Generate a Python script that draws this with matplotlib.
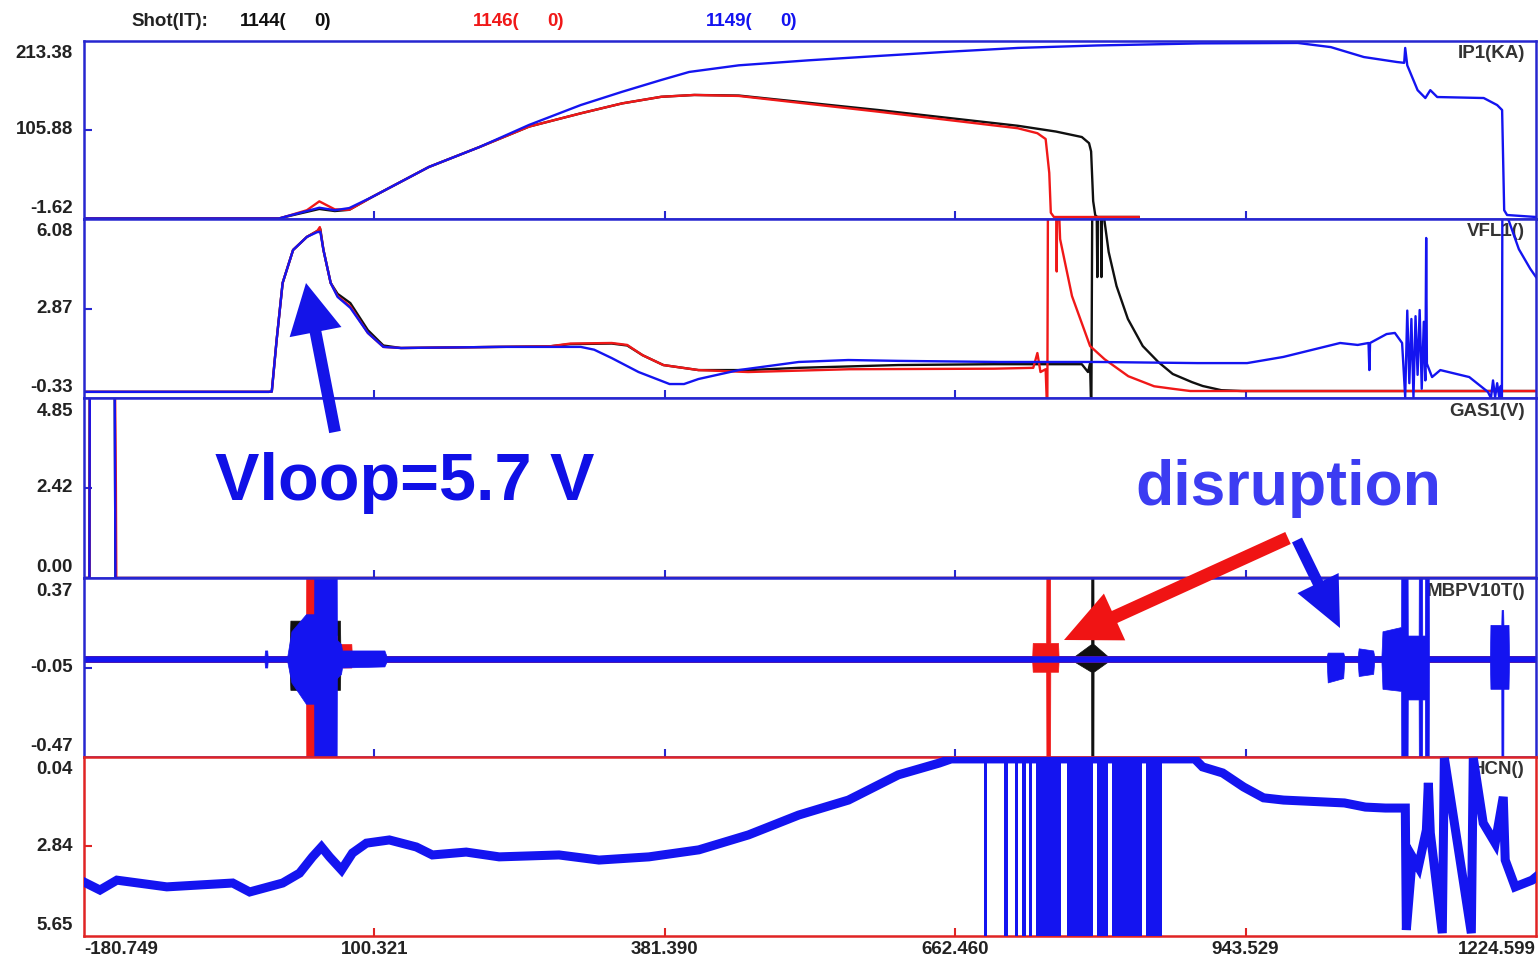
import numpy as np
import matplotlib
matplotlib.use("Agg")
import matplotlib.pyplot as plt
from matplotlib.patches import FancyArrowPatch
from matplotlib.transforms import offset_copy, blended_transform_factory

plt.rcParams['font.family'] = ['Liberation Sans', 'DejaVu Sans']

W, H = 1538, 961

# ---------------------------------------------------------------- data
shots = ['1144', '1146', '1149']
shot_colors = ['#101010', '#f01818', '#1414f0']

x_min, x_max = -180.749, 1224.599
x_ticks = [100.321, 381.390, 662.460, 943.529]
x_tick_labels = ['-180.749', '100.321', '381.390', '662.460', '943.529', '1224.599']

panel_names = ['IP1(KA)', 'VFL1()', 'GAS1(V)', 'MBPV10T()', 'HCN()']
# (bottom, middle, top) of each panel's vertical scale
y_scales = [(-1.62, 105.88, 213.38),
            (-0.33, 2.87, 6.08),
            (0.00, 2.42, 4.85),
            (-0.47, -0.05, 0.37),
            (5.65, 2.84, 0.04)]

# plasma current IP1 (kA): (time, value)
ip1_1144 = [(-180.7, -1.0), (8, -1.0), (15, 1.2), (35, 7), (47, 10.5), (62, 8), (76, 9.5),
            (98, 24.9), (153, 61.2), (202, 85.3), (250, 110), (300, 126), (340, 138),
            (378, 146), (410, 148.2), (453, 147.5), (588, 130), (723, 111), (760, 104),
            (785, 97.4), (792, 90), (794, 80), (796, 20), (798, 3), (800, 0.8), (840, 0.8)]
ip1_1146 = [(-180.7, -1.0), (8, -1.0), (15, 1.5), (35, 9), (47, 19.7), (62, 10), (76, 9.5),
            (98, 24.9), (153, 61.2), (202, 85.3), (250, 110), (300, 126), (340, 138),
            (378, 146), (410, 148.2), (453, 147), (588, 128), (723, 108), (742, 102),
            (750, 95), (753.5, 54), (755, 6), (758, 0.8), (840, 0.8)]
ip1_1149 = [(-180.7, -1.0), (8, -1.0), (15, 1.5), (35, 8), (47, 12), (62, 9), (76, 11.6),
            (98, 24.9), (153, 61.2), (202, 85.3), (250, 112), (300, 136), (340, 152),
            (378, 166.3), (405, 176), (453, 184), (520, 190), (588, 195.3), (650, 200),
            (723, 205), (800, 208), (900, 210.5), (994, 211), (1026, 206), (1058, 194),
            (1090, 188), (1097, 187), (1098, 205), (1100, 184), (1110, 154), (1117.5, 144.5),
            (1122.3, 154), (1129, 145.7), (1174, 144.5), (1187, 136), (1191.8, 130),
            (1193.8, 9), (1196.6, 3.2), (1224.6, 0.8)]

# loop voltage VFL1
vfl_1144 = [(-180.7, -0.11), (-2, -0.11), (1, -0.1), (5.7, 1.75), (11.5, 3.79), (21.6, 4.97),
            (35, 5.44), (45, 5.65), (48, 5.72), (51, 4.97), (58, 3.79), (64.7, 3.4),
            (77, 3.07), (94, 2.1), (109, 1.55), (126, 1.46), (221, 1.5), (270, 1.52),
            (290, 1.6), (330, 1.62), (345, 1.55), (360, 1.2), (380, 0.85), (414, 0.67),
            (462, 0.67), (511, 0.75), (607, 0.85), (700, 0.88), (785, 0.88), (791, 0.6),
            (793, 0.9), (794.2, -1.0), (795.4, 9.0), (799, 8.0), (800, 4.0), (801, 8.0),
            (803, 8.0), (804, 4.0), (805, 8.0), (807, 6.0), (811, 4.9), (818.6, 3.68),
            (829.6, 2.5), (844, 1.53), (859, 0.96), (873, 0.53), (891.5, 0.24), (902, 0.1),
            (920, -0.05), (940, -0.08), (1224.6, -0.08)]
vfl_1146 = [(-180.7, -0.11), (-2, -0.11), (1, -0.1), (5.7, 1.75), (11.5, 3.79), (21.6, 4.97),
            (35, 5.44), (45, 5.65), (47.5, 5.79), (51, 4.97), (58, 3.79), (64.7, 3.32),
            (77, 2.95), (94, 2.0), (109, 1.5), (126, 1.46), (221, 1.5), (270, 1.52),
            (290, 1.62), (330, 1.64), (345, 1.57), (360, 1.2), (380, 0.85), (414, 0.67),
            (462, 0.6), (560, 0.7), (700, 0.72), (738, 0.75), (742, 1.28), (745, 0.6),
            (750, 0.7), (751.6, -1.0), (752.4, 9.0), (760.2, 8.0), (760.7, 4.2), (761.3, 8.0),
            (764, 5.36), (775.5, 3.32), (793, 1.53), (807, 1.06), (830, 0.45), (855, 0.09),
            (873, 0.0), (890, -0.08), (1224.6, -0.08)]
vfl_1149 = [(-180.7, -0.11), (-2, -0.11), (1, -0.1), (5.7, 1.75), (11.5, 3.79), (21.6, 4.97),
            (35, 5.44), (45, 5.61), (48, 5.62), (51, 4.97), (58, 3.79), (64.7, 3.29),
            (77, 2.9), (94, 2.0), (109, 1.5), (126, 1.46), (221, 1.5), (300, 1.5),
            (313, 1.4), (330, 1.1), (356, 0.6), (386, 0.17), (400, 0.17), (414, 0.35),
            (453, 0.67), (511, 0.96), (559, 1.03), (607, 1.0), (704, 0.96), (800, 0.96),
            (897, 0.92), (945, 0.92), (980, 1.14), (1035, 1.64), (1052, 1.57), (1062.5, 1.64),
            (1063.3, 0.67), (1064, 1.64), (1080, 1.96), (1088, 2.0), (1095, 1.64), (1098, -0.3),
            (1100, 2.8), (1102, 0.2), (1104, 2.5), (1106, -0.3), (1108, 2.6), (1110, 0.5),
            (1112, 2.82), (1114, 0.0), (1116, 2.4), (1117.5, 0.3), (1118.3, 5.4), (1119, 0.9),
            (1124, 0.42), (1132, 0.67), (1160, 0.42), (1178, -0.11), (1181, -0.33), (1183, 0.3),
            (1185, -0.3), (1187, 0.2), (1189, -0.3), (1190.5, 0.1), (1191.6, -0.6), (1192.2, 9.0),
            (1197.5, 6.1), (1208, 5.0), (1219, 4.3), (1224.6, 4.0)]

# gas puff GAS1 (V)
gas_1144 = [(-180.7, 0), (-175.5, 0), (-175.0, 7), (-151.3, 7), (-150.3, 0), (1224.6, 0)]
gas_1146 = [(-180.7, 0), (-175.5, 0), (-175.0, 7), (-151.3, 7), (-149.9, 2.5), (-149.5, 0), (1224.6, 0)]
gas_1149 = [(-180.7, 0), (-175.5, 0), (-175.0, 7), (-151.3, 7), (-150.3, 0), (1224.6, 0)]

# magnetic probe MBPV10T: (time, upper envelope, lower envelope)
mb_1144 = [(-180.7, 0.003, -0.023), (18, 0.003, -0.023), (19, 0.17, -0.155), (67, 0.17, -0.155),
           (67.5, 0.003, -0.023), (778, 0.003, -0.023), (794, 0.06, -0.07), (794.3, 1, -1),
           (796.1, 1, -1), (796.4, 0.06, -0.07), (810, 0.003, -0.023), (1224.6, 0.003, -0.023)]
mb_1146 = [(-180.7, 0.003, -0.023), (20, 0.003, -0.023), (21, 0.12, -0.12), (34.2, 0.12, -0.12),
           (34.6, 1, -1), (42.4, 1, -1), (42.8, 0.12, -0.12), (64, 0.1, -0.1), (64.5, 0.06, -0.05),
           (78, 0.06, -0.05), (78.5, 0.003, -0.023), (737, 0.003, -0.023), (737.5, 0.065, -0.07),
           (750.5, 0.065, -0.07), (751, 1, -1), (754, 1, -1), (754.5, 0.065, -0.07),
           (762, 0.065, -0.07), (762.5, 0.003, -0.023), (1224.6, 0.003, -0.023)]
mb_1149 = [(-180.7, 0.003, -0.023), (-6, 0.003, -0.023), (-5.6, 0.03, -0.05), (-3.4, 0.03, -0.05),
           (-3, 0.003, -0.023), (16, 0.003, -0.023), (20, 0.12, -0.12), (34, 0.2, -0.22),
           (42, 0.2, -0.22), (42.4, 1, -1), (63.5, 1, -1), (64, 0.08, -0.1), (68, 0.06, -0.08),
           (69, 0.03, -0.05), (110, 0.03, -0.045), (112, 0.003, -0.023), (1022, 0.003, -0.023),
           (1023, 0.02, -0.12), (1038, 0.02, -0.1), (1039, 0.003, -0.023), (1052, 0.003, -0.023),
           (1053, 0.04, -0.09), (1067, 0.03, -0.08), (1068, 0.003, -0.023), (1075, 0.003, -0.023),
           (1076, 0.12, -0.15), (1094, 0.14, -0.16), (1094.5, 1, -1), (1100, 1, -1),
           (1100.5, 0.1, -0.2), (1111, 0.1, -0.2), (1111.5, 1, -1), (1114, 1, -1),
           (1114.5, 0.1, -0.2), (1117, 0.1, -0.2), (1117.5, 1, -1), (1120.5, 1, -1),
           (1121, 0.003, -0.023), (1180, 0.003, -0.023), (1180.5, 0.15, -0.15), (1191, 0.15, -0.15),
           (1191.3, 0.22, -1), (1192.8, 0.22, -1), (1193.1, 0.15, -0.15), (1198, 0.15, -0.15),
           (1198.5, 0.003, -0.023), (1224.6, 0.003, -0.023)]

# HCN interferometer (shot 1149)
hcn_1149 = [(-180.7, 3.96), (-165.3, 4.21), (-148.9, 3.9), (-100.6, 4.11), (-36.8, 3.99),
            (-20.4, 4.27), (11.5, 3.99), (27.9, 3.68), (40.4, 3.17), (49.1, 2.86), (56.9, 3.17),
            (68.5, 3.58), (79.1, 3.05), (92.6, 2.74), (114.8, 2.64), (140.9, 2.86), (156.4, 3.11),
            (189.2, 3.02), (221.1, 3.17), (279, 3.11), (317.7, 3.27), (366, 3.17), (414.3, 2.95),
            (462.5, 2.48), (510.9, 1.86), (559.1, 1.39), (607.4, 0.6), (647, 0.23), (658.6, 0.1),
            (894.3, 0.1), (901.9, 0.35), (921.3, 0.54), (941.6, 0.98), (960.9, 1.32),
            (980.3, 1.39), (1019.9, 1.45), (1039.2, 1.48), (1059.5, 1.61), (1078.8, 1.64),
            (1098.1, 1.64), (1099.1, 5.46), (1104.9, 3.17), (1110.7, 3.49), (1118.5, 2.33),
            (1120.4, 0.85), (1122.3, 2.42), (1133.9, 5.56), (1135.9, 0.07), (1162, 5.56),
            (1163.9, 0.07), (1173.5, 2.11), (1185.1, 2.74), (1192.9, 1.29), (1194.8, 3.27),
            (1204.4, 4.11), (1220.8, 3.9), (1224.6, 3.8)]
# fringe-jump intervals of the HCN signal (start, end)
hcn_fringe_jumps = [(690.3, 693.2), (709.8, 713.7), (720.3, 723.2), (727.2, 731.1),
                    (733.8, 736.7), (740.7, 764.9), (770.7, 795.8), (799.6, 810.3),
                    (814.1, 843.1), (847.0, 862.4)]

# ---------------------------------------------------------------- layout
FONT = dict(fontsize=13.5, fontweight='bold')
frame_colors = ['#2626d0', '#2626d0', '#2626d0', '#2626d0', '#e02424']
row_px = [41, 219, 398, 578, 757, 936]
left_px, right_px = 84, 1536

fig = plt.figure(figsize=(W / 100, H / 100), dpi=100)
fig.patch.set_facecolor('white')


def fpos(x, y):
    return x / W, 1 - y / H


axes = []
for i in range(5):
    top, bot = row_px[i], row_px[i + 1]
    ax = fig.add_axes([left_px / W, 1 - bot / H, (right_px - left_px) / W, (bot - top) / H])
    ax.set_xlim(x_min, x_max)
    lo, mid, hi = y_scales[i]
    ax.set_ylim(lo, hi)
    col = frame_colors[i]
    for s in ax.spines.values():
        s.set_color(col)
        s.set_linewidth(1.8)
    ax.set_xticks(x_ticks)
    ax.set_yticks([mid])
    ax.tick_params(axis='both', direction='in', length=6, width=1.5, color=col,
                   labelbottom=False, labelleft=False)
    # left-hand scale labels
    tr_top = offset_copy(ax.transAxes, fig, x=-11, y=-13, units='dots')
    tr_mid = offset_copy(ax.transAxes, fig, x=-11, y=0, units='dots')
    tr_bot = offset_copy(ax.transAxes, fig, x=-11, y=10.5, units='dots')
    ax.text(0, 1, f'{hi:.2f}', transform=tr_top, ha='right', va='center', color='#222222', **FONT)
    ax.text(0, 0.5, f'{mid:.2f}', transform=tr_mid, ha='right', va='center', color='#222222', **FONT)
    ax.text(0, 0, f'{lo:.2f}', transform=tr_bot, ha='right', va='center', color='#222222', **FONT)
    # channel name
    tr_name = offset_copy(ax.transAxes, fig, x=-11, y=-13, units='dots')
    ax.text(1, 1, panel_names[i], transform=tr_name, ha='right', va='center',
            color='#333333', zorder=1, **FONT)
    axes.append(ax)

ax_ip, ax_vfl, ax_gas, ax_mb, ax_hcn = axes

# ---------------------------------------------------------------- traces
for data, c in zip([ip1_1144, ip1_1146, ip1_1149], shot_colors):
    a = np.array(data)
    ax_ip.plot(a[:, 0], a[:, 1], color=c, lw=1.7, zorder=2)

for data, c in zip([vfl_1144, vfl_1146, vfl_1149], shot_colors):
    a = np.array(data)
    ax_vfl.plot(a[:, 0], a[:, 1], color=c, lw=1.7, zorder=2)

for data, c in zip([gas_1144, gas_1146, gas_1149], shot_colors):
    a = np.array(data)
    ax_gas.plot(a[:, 0], a[:, 1], color=c, lw=1.7, zorder=2)

for data, c in zip([mb_1144, mb_1146, mb_1149], shot_colors):
    a = np.array(data)
    ax_mb.fill_between(a[:, 0], a[:, 2], a[:, 1], color=c, lw=0.5, edgecolor=c, zorder=2)

a = np.array(hcn_1149)
ax_hcn.plot(a[:, 0], a[:, 1], color=shot_colors[2], lw=6.5, solid_joinstyle='miter', zorder=3)
for t0, t1 in hcn_fringe_jumps:
    ax_hcn.axvspan(t0, t1, color=shot_colors[2], lw=0, zorder=3)
ax_hcn.set_ylim(y_scales[4][0], y_scales[4][2])

# bottom time labels
tr_x = blended_transform_factory(ax_hcn.transData, ax_hcn.transAxes)
tr_x = offset_copy(tr_x, fig, x=0, y=-13, units='dots')
x_label_pos = [x_min] + x_ticks + [x_max]
for k, (xv, lab) in enumerate(zip(x_label_pos, x_tick_labels)):
    ha = 'left' if k == 0 else ('right' if k == len(x_label_pos) - 1 else 'center')
    ax_hcn.text(xv, 0, lab, transform=tr_x, ha=ha, va='center', color='#222222',
                clip_on=False, **FONT)

# ---------------------------------------------------------------- header
fig.text(*fpos(131, 22), 'Shot(IT):', ha='left', va='center', color='#222222', **FONT)
head_x = [240, 473, 706]
for sh, c, x0 in zip(shots, shot_colors, head_x):
    fig.text(*fpos(x0, 22), f'{sh}(', ha='left', va='center', color=c, **FONT)
    fig.text(*fpos(x0 + 74, 22), '0)', ha='left', va='center', color=c, **FONT)

# ---------------------------------------------------------------- annotations
fig.text(*fpos(215, 500), 'Vloop=5.7 V', ha='left', va='baseline', color='#1010e6',
         fontsize=48, fontweight='bold')
fig.text(*fpos(1135, 505), 'disruption', ha='left', va='baseline', color='#3c3cf2',
         fontsize=45, fontweight='bold')


def arrow(p0, p1, color, hl, hw, tw):
    fa = FancyArrowPatch(fpos(*p0), fpos(*p1), transform=fig.transFigure,
                         arrowstyle=f'simple,head_length={hl},head_width={hw},tail_width={tw}',
                         mutation_scale=1, color=color, lw=0, shrinkA=0, shrinkB=0, zorder=10)
    fig.patches.append(fa)


arrow((335, 432), (306, 283), '#1414e8', 36, 38, 8.5)
arrow((1288, 538), (1064, 640), '#f01414', 40, 37, 9.5)
arrow((1297, 540), (1340, 628), '#1414e8', 36, 33, 8)

fig.savefig('out.png', dpi=100, facecolor='white')
